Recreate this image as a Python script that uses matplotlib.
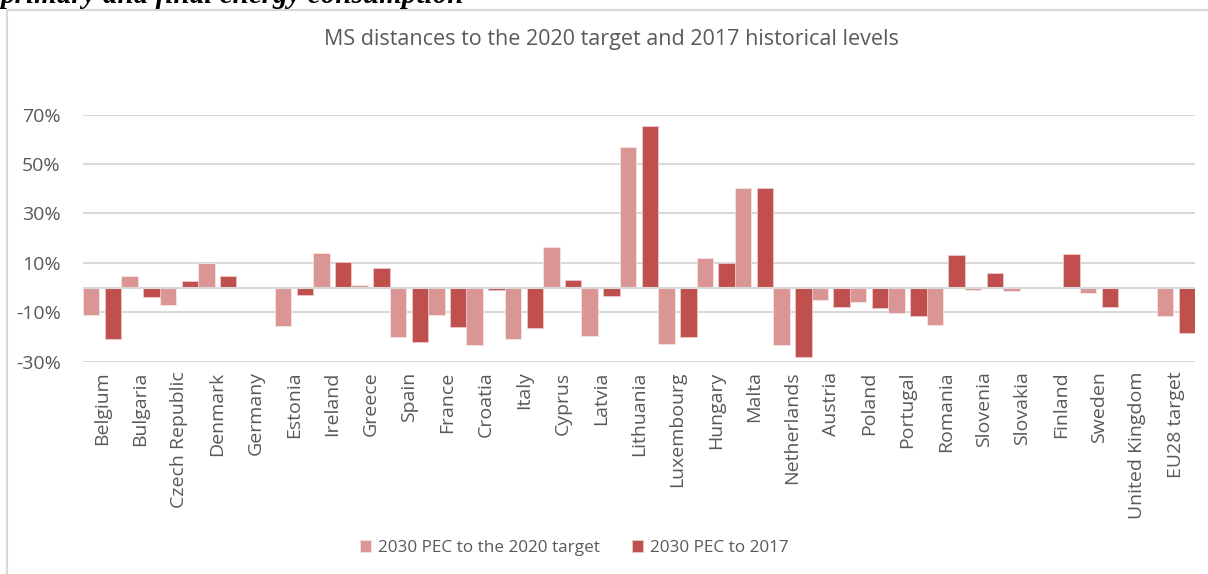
import numpy as np
import matplotlib
matplotlib.use('Agg')
import matplotlib.pyplot as plt
from matplotlib.patches import Rectangle
from matplotlib.ticker import FuncFormatter

countries = [
    "Belgium", "Bulgaria", "Czech Republic", "Denmark", "Germany", "Estonia",
    "Ireland", "Greece", "Spain", "France", "Croatia", "Italy", "Cyprus",
    "Latvia", "Lithuania", "Luxembourg", "Hungary", "Malta", "Netherlands",
    "Austria", "Poland", "Portugal", "Romania", "Slovenia", "Slovakia",
    "Finland", "Sweden", "United Kingdom", "EU28 target"
]

# % values
pec_to_2020_target = [
    -10.9, 4.7, -7.2, 10.0, 0.0, -15.6, 14.2, 0.9, -19.9, -10.9, -23.4, -20.8, 16.3,
    -19.5, 56.9, -23.0, 11.8, 40.3, -23.4, -5.0, -5.7, -10.3, -15.0, -1.1, -1.5,
    0.4, -2.2, 0.0, -11.5
]
pec_to_2017 = [
    -20.8, -3.7, 2.6, 4.7, 0.0, -2.8, 10.4, 7.8, -21.9, -16.0, -1.1, -16.4, 3.0,
    -3.2, 65.4, -19.9, 10.0, 40.3, -28.0, -7.9, -8.3, -11.5, 13.2, 6.1, 0.0,
    13.5, -7.9, 0.0, -18.4
]

series_names = ["2030 PEC to the 2020 target", "2030 PEC to 2017"]
light_red = '#da9694'
dark_red = '#c0504d'
text_grey = '#595959'

plt.rcParams['font.family'] = ['Open Sans', 'DejaVu Sans']

fig = plt.figure(figsize=(12.08, 5.74), dpi=100)

# the cut-off report heading above the chart
fig.text(0.0, 1 - 3 / 574, "primary and final energy consumption", family='Liberation Serif',
         fontsize=21, fontweight='bold', fontstyle='italic', va='baseline', ha='left')

# chart frame (Excel chart area border)
fig.patches.append(Rectangle((6.5 / 1208, -0.1), 1.2, 1 - 9.5 / 574 + 0.1,
                             transform=fig.transFigure, fill=False,
                             edgecolor='#d9d9d9', linewidth=1.5))

ax = fig.add_axes([83 / 1208, 1 - 361.7 / 574, (1195 - 83) / 1208, (361.7 - 114.7) / 574])

x = np.arange(len(countries))
width = 0.43
ax.bar(x - 0.285, pec_to_2020_target, width, color=light_red, edgecolor='#f6e4e3',
       linewidth=0.6, label=series_names[0], zorder=3)
ax.bar(x + 0.285, pec_to_2017, width, color=dark_red, edgecolor='#ecc8c7',
       linewidth=0.6, label=series_names[1], zorder=3)

ax.set_xlim(-0.5, len(countries) - 0.5)
ax.set_ylim(-30, 70)
ax.set_yticks([-30, -10, 10, 30, 50, 70])
ax.yaxis.set_major_formatter(FuncFormatter(lambda v, p: f"{v:.0f}%"))
ax.grid(axis='y', color='#d9d9d9', linewidth=1.5, zorder=0)
ax.axhline(0, color='#d9d9d9', linewidth=1.5, zorder=4)

ax.set_xticks(x)
ax.set_xticklabels(countries, rotation=90, va='top', ha='center')
ax.tick_params(axis='both', length=0, labelsize=14, colors=text_grey)
ax.tick_params(axis='x', pad=7)
ax.tick_params(axis='y', pad=16)
for s in ax.spines.values():
    s.set_visible(False)

fig.text(611 / 1208, 1 - 40 / 574, "MS distances to the 2020 target and 2017 historical levels",
         ha='center', va='center', fontsize=15.5, color=text_grey)

fig.legend(loc='center', bbox_to_anchor=(574 / 1208, 1 - 548 / 574), ncol=2, frameon=False,
           fontsize=12.3, labelcolor=text_grey, handlelength=0.65, handleheight=0.65,
           handletextpad=0.4, columnspacing=1.9)

fig.savefig('out.png', dpi=100)
